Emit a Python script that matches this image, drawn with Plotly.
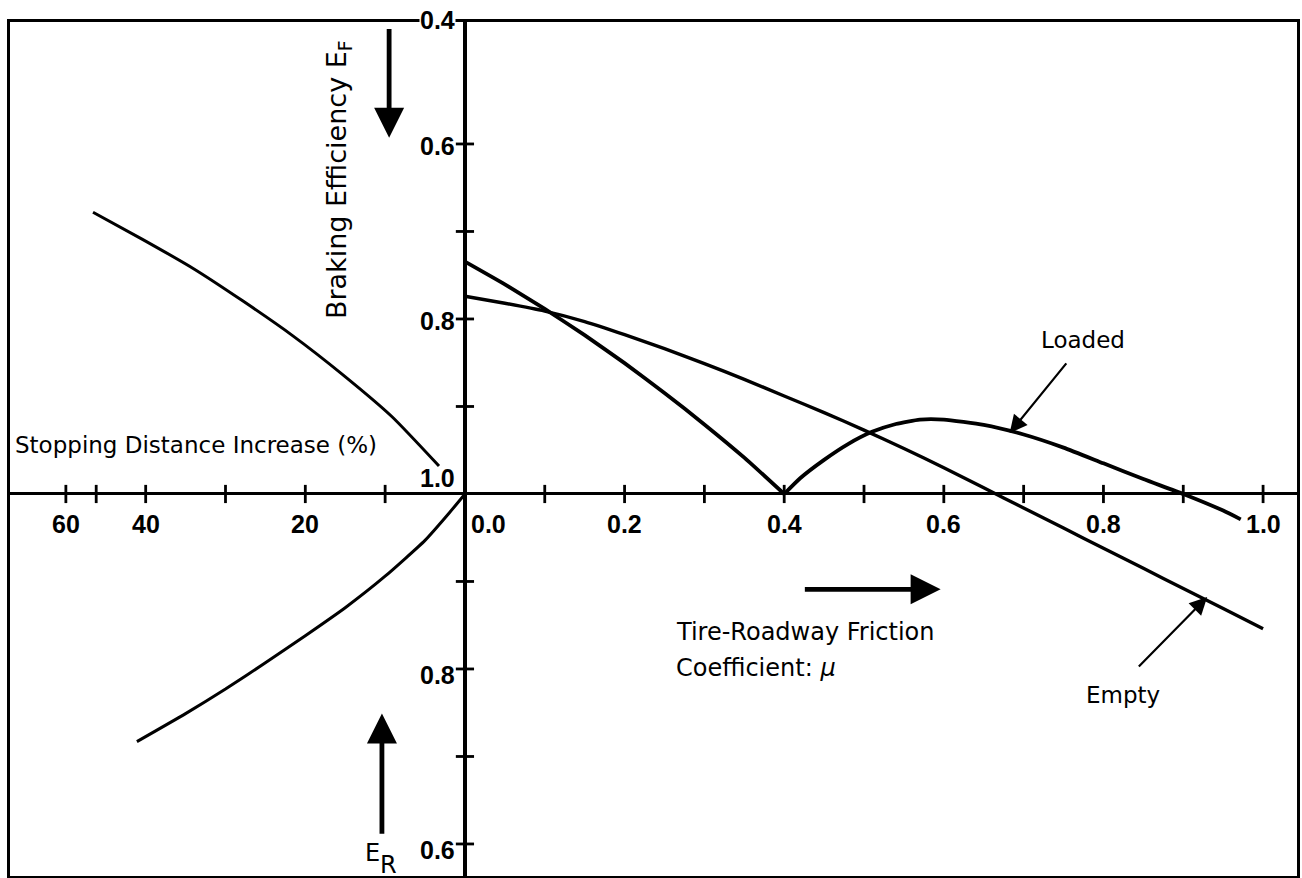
import plotly.graph_objects as go

# ---------------- data ----------------
# Right quadrant: braking efficiency E_F vs tire-roadway friction coefficient mu
# "Loaded" curve: falling branch (to the V at mu = 0.4) and rising/hump branch
loaded_mu_a = [0.0, 0.05, 0.10, 0.15, 0.20, 0.25, 0.30, 0.35, 0.40]
loaded_e_a = [0.7345, 0.7605, 0.7885, 0.8185, 0.8505, 0.8845, 0.9205, 0.9585, 1.0]
loaded_mu_b = [0.40, 0.42, 0.45, 0.48, 0.51, 0.54, 0.57, 0.60, 0.65, 0.70,
               0.75, 0.80, 0.85, 0.90, 0.95, 0.972]
loaded_e_b = [1.0, 0.982, 0.961, 0.943, 0.929, 0.920, 0.915, 0.915, 0.921, 0.932,
              0.947, 0.965, 0.983, 1.0, 1.019, 1.029]

empty_mu = [0.0, 0.05, 0.10, 0.15, 0.20, 0.25, 0.30, 0.35, 0.40, 0.45, 0.50,
            0.55, 0.60, 0.65, 0.70, 0.75, 0.80, 0.85, 0.90, 0.95, 1.0]
empty_e = [0.774, 0.782, 0.791, 0.803, 0.818, 0.834, 0.851, 0.869, 0.888, 0.907,
           0.927, 0.948, 0.970, 0.993, 1.016, 1.039, 1.062, 1.085, 1.108, 1.131, 1.154]

# Left quadrants: stopping distance increase (%) vs E_F (upper) and E_R (lower)
sd_front = [46.6, 40.4, 34.1, 27.9, 21.6, 15.4, 9.1, 3.25]
ef_front = [0.678, 0.709, 0.742, 0.779, 0.819, 0.863, 0.912, 0.968]

sd_rear = [0.0, 2.0, 5.0, 10.0, 15.0, 20.0, 25.0, 30.0, 35.0, 41.1]
er_rear = [1.0, 0.978, 0.947, 0.906, 0.870, 0.838, 0.807, 0.777, 0.749, 0.717]

# Axis ticks / labels
mu_ticks = [0.1, 0.2, 0.3, 0.4, 0.5, 0.6, 0.7, 0.8, 0.9, 1.0]
mu_label_vals = [0.2, 0.4, 0.6, 0.8, 1.0]
mu_labels = ["0.2", "0.4", "0.6", "0.8", "1.0"]
sd_ticks = [10, 20, 30, 40, 46.2, 50]          # tick positions on the % scale
sd_label_pos = [20, 40, 50]
sd_labels = ["20", "40", "60"]
ef_ticks = [0.9, 0.8, 0.7, 0.6]
ef_label_vals = [0.8, 0.6]
er_ticks = [0.9, 0.8, 0.7, 0.6]
er_label_vals = [0.8, 0.6]

# ---------------- nomogram coordinate mapping ----------------
def sd_x(v):      # stopping-distance % -> plot x (to the left)
    return -v / 100.0

def ef_y(e):      # front efficiency -> plot y (upwards)
    return 1.0 - e

def er_y(e):      # rear efficiency -> plot y (downwards)
    return e - 1.0

TXT = "DejaVu Sans, Liberation Sans, Arial"
NUM = "Liberation Sans, Arial"
BLACK = "black"

fig = go.Figure()

def curve(xs, ys, w):
    fig.add_trace(go.Scatter(x=xs, y=ys, mode="lines",
                             line=dict(color=BLACK, width=w, shape="spline", smoothing=0.5)))

curve(loaded_mu_a, [ef_y(e) for e in loaded_e_a], 3.8)
curve(loaded_mu_b, [ef_y(e) for e in loaded_e_b], 3.8)
curve(empty_mu, [ef_y(e) for e in empty_e], 3.4)
curve([sd_x(v) for v in sd_front], [ef_y(e) for e in ef_front], 3)
curve([sd_x(v) for v in sd_rear], [er_y(e) for e in er_rear], 3)

# tick marks crossing the axes
tick_marker_v = dict(symbol="line-ns", size=13, line=dict(width=2.8, color=BLACK))
tick_marker_h = dict(symbol="line-ew", size=13, line=dict(width=2.8, color=BLACK))
fig.add_trace(go.Scatter(x=mu_ticks + [sd_x(v) for v in sd_ticks],
                         y=[0] * (len(mu_ticks) + len(sd_ticks)),
                         mode="markers", marker=tick_marker_v))
fig.add_trace(go.Scatter(x=[0] * (len(ef_ticks) + len(er_ticks)),
                         y=[ef_y(e) for e in ef_ticks] + [er_y(e) for e in er_ticks],
                         mode="markers", marker=tick_marker_h))

ann = []
tick_font = dict(family=NUM, size=25, color=BLACK, weight="bold")

def tf(size):
    return dict(family=TXT, size=size, color=BLACK)

# x tick labels (right)
ann.append(dict(x=0, y=0, text="0.0", xanchor="left", yanchor="middle",
                xshift=4, yshift=-30, showarrow=False, font=tick_font))
for v, t in zip(mu_label_vals, mu_labels):
    ann.append(dict(x=v, y=0, text=t, xanchor="center", yanchor="middle",
                    yshift=-30, showarrow=False, font=tick_font))
# x tick labels (left)
for v, t in zip(sd_label_pos, sd_labels):
    ann.append(dict(x=sd_x(v), y=0, text=t, xanchor="center", yanchor="middle",
                    yshift=-30, showarrow=False, font=tick_font))
# y tick labels
for e in ef_label_vals:
    ann.append(dict(x=0, y=ef_y(e), text=f"{e:.1f}", xanchor="right", yanchor="middle",
                    xshift=-8, yshift=-2, showarrow=False, font=tick_font))
for e in er_label_vals:
    ann.append(dict(x=0, y=er_y(e), text=f"{e:.1f}", xanchor="right", yanchor="middle",
                    xshift=-8, yshift=-6, showarrow=False, font=tick_font))
ann.append(dict(x=0, y=0, text="1.0", xanchor="right", yanchor="middle",
                xshift=-8, yshift=16, showarrow=False, font=tick_font))
ann.append(dict(x=0, y=1, yref="paper", text="0.4", xanchor="right", yanchor="middle",
                xshift=-9, yshift=2, showarrow=False, font=tick_font, bgcolor="white",
                borderpad=0))

# titles / labels
ann.append(dict(x=sd_x(15.75), y=0.359, text="Braking Efficiency E<sub>F</sub>",
                textangle=-90, showarrow=False, font=tf(27),
                xanchor="center", yanchor="middle"))
ann.append(dict(x=sd_x(56.6), y=0.056, text="Stopping Distance Increase (%)",
                xanchor="left", yanchor="middle", showarrow=False, font=tf(23)))
ann.append(dict(x=0.262, y=-0.158, text="Tire-Roadway Friction",
                xanchor="left", yanchor="middle", showarrow=False, font=tf(24)))
ann.append(dict(x=0.262, y=-0.199, text="Coefficient: <i>μ</i>",
                xanchor="left", yanchor="middle", showarrow=False, font=tf(24)))
ann.append(dict(x=0.774, y=0.176, text="Loaded", xanchor="center", yanchor="middle",
                showarrow=False, font=tf(23)))
ann.append(dict(x=0.824, y=-0.2297, text="Empty", xanchor="center", yanchor="middle",
                showarrow=False, font=tf(23)))
ann.append(dict(x=sd_x(11.6), y=-0.410, text="E", xanchor="center",
                yanchor="middle", showarrow=False, font=tf(24)))
ann.append(dict(x=sd_x(9.6), y=-0.424, text="R", xanchor="center",
                yanchor="middle", showarrow=False, font=tf(24)))

# arrows
def arrow(tip_x, tip_y, tail_x, tail_y, width, size):
    return dict(x=tip_x, y=tip_y, ax=tail_x, ay=tail_y, axref="x", ayref="y",
                xref="x", yref="y", text="", showarrow=True, arrowhead=2,
                arrowwidth=width, arrowsize=size, arrowcolor=BLACK)

ann.append(arrow(sd_x(9.5), 0.407, sd_x(9.5), 0.533, 4.8, 1.25))
ann.append(arrow(sd_x(10.4), -0.251, sd_x(10.4), -0.390, 4.8, 1.25))
ann.append(arrow(0.596, -0.109, 0.424, -0.109, 4.8, 1.25))
ann.append(arrow(0.6825, 0.0697, 0.755, 0.151, 2.2, 1.6))
ann.append(arrow(0.93, -0.1177, 0.8425, -0.199, 2.2, 1.6))

fig.update_layout(
    width=1302, height=878,
    margin=dict(l=10, r=2, t=22, b=2),
    paper_bgcolor="white", plot_bgcolor="white",
    showlegend=False, hovermode=False,
    annotations=ann,
    xaxis=dict(range=[-0.57, 1.0425], showgrid=False, zeroline=True,
               zerolinecolor=BLACK, zerolinewidth=3.8, showline=True, mirror=True,
               linecolor=BLACK, linewidth=3, showticklabels=False, ticks=""),
    yaxis=dict(range=[-0.4366, 0.5394], showgrid=False, zeroline=True,
               zerolinecolor=BLACK, zerolinewidth=3.4, showline=True, mirror=True,
               linecolor=BLACK, linewidth=3, showticklabels=False, ticks=""),
)

fig.write_html("out.html", config={"displayModeBar": False},
               post_script="document.body.style.margin='0';")
